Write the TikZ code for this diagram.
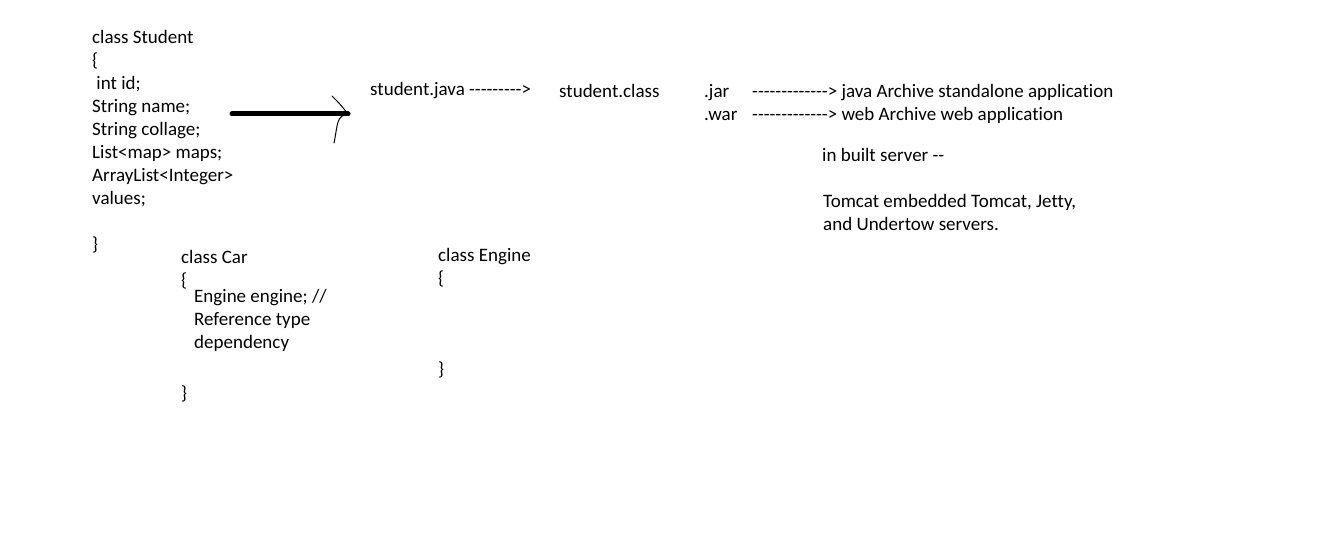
\documentclass[tikz,border=0pt]{standalone}
\usepackage{fontspec}
\newfontfamily\calib{Carlito}[Ligatures=NoCommon]
\usetikzlibrary{positioning}
\tikzset{
    code/.style={
           anchor=base west,
           inner sep=0pt,
           align=left,
           font=\calib\fontsize{19}{23}\selectfont,
           },
}
\tikzset{
    pen/.style={
           draw=black,
           line width=1pt,
           line cap=round,
           },
}
\begin{document}
\begin{tikzpicture}[x=1pt,y=-1pt]
\useasboundingbox[fill=white] (0,0) rectangle (1337,553);
% multi line blocks sit on the baseline of their last line
\node[code](student) at (92,251){class Student\\\{\\\ int id;\\String name;\\String collage;\\List<map> maps;\\ArrayList<Integer>\\values;\\ \\\}};
\node[code](java) at (370,96){student.java --------->};
\node[code](classfile) at (559,98){student.class};
\node[code](jar) at (704,98){.jar};
\node[code](war) at (704,121){.war};
\node[code](jardesc) at (752,98){-------------> java Archive standalone application};
\node[code](wardesc) at (752,121){-------------> web Archive web application};
\node[code](server) at (822,162){in built server --};
\node[code](tomcat) at (823,231){Tomcat embedded Tomcat, Jetty,\\and Undertow servers.};
\node[code](car) at (181,286){class Car\\\{};
\node[code](carbody) at (194,348){Engine engine; //\\Reference type\\dependency};
\node[code](carend) at (181,399){\}};
\node[code](engine) at (438,284){class Engine\\\{};
\node[code](engineend) at (438,375){\}};
% hand drawn arrow
\coordinate (tail) at (232,114);
\coordinate (tip) at (348,114);
\draw[line width=5pt,line cap=round] (tail) -- (tip);
\draw[pen] (332,96) .. controls (340,104) .. (tip);
\draw[pen] (tip) .. controls (336,116) and (338,124) .. (334,143);
\end{tikzpicture}
\end{document}
